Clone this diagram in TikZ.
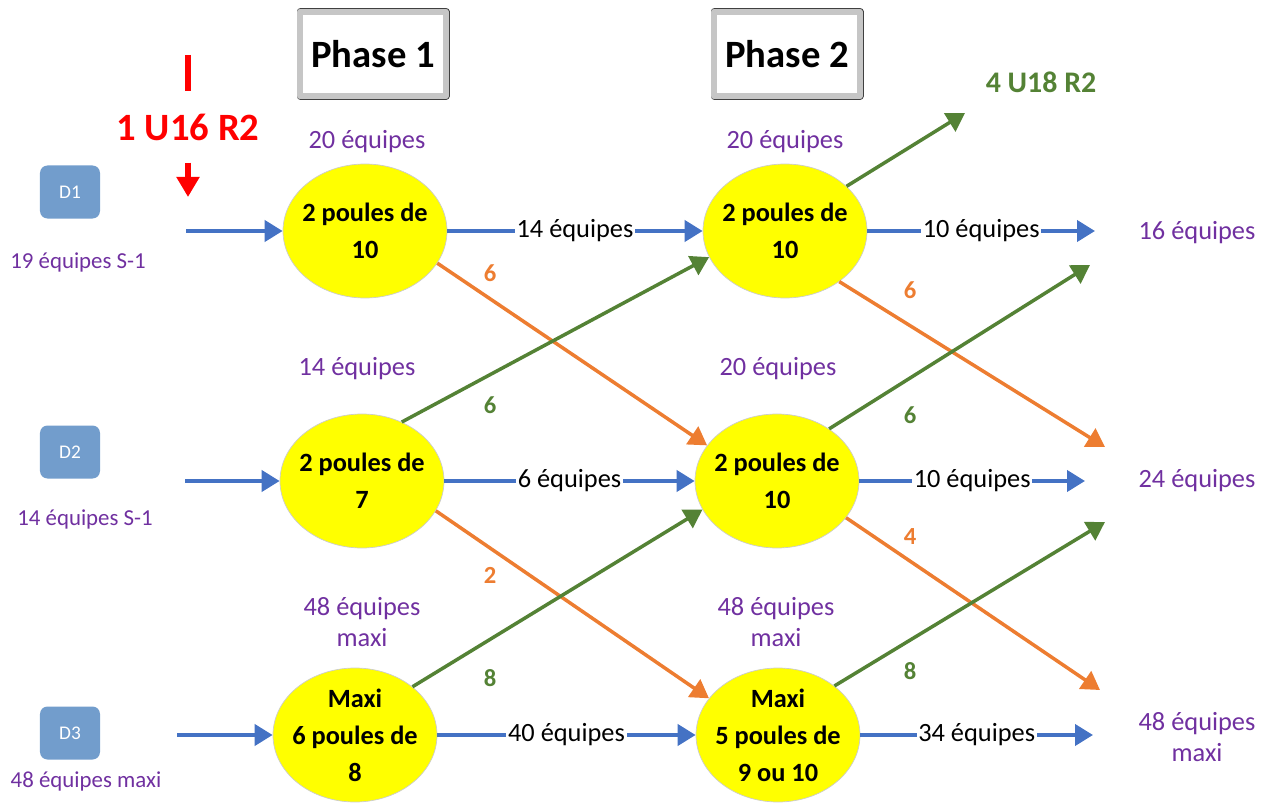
\documentclass[tikz,border=0pt]{standalone}
\usepackage{fontspec}
\setmainfont{Carlito}
\usetikzlibrary{shapes.geometric,arrows.meta}
\definecolor{cbleu}{RGB}{68,114,196}
\definecolor{corange}{RGB}{237,125,49}
\definecolor{cvert}{RGB}{84,130,53}
\definecolor{cviolet}{RGB}{112,48,160}
\definecolor{cjaune}{RGB}{255,255,0}
\definecolor{cboite}{RGB}{114,157,204}
\definecolor{crouge}{RGB}{255,0,0}
\begin{document}
\begin{tikzpicture}[x=0.2mm,y=-0.2mm,line join=round,
		>={Triangle[length=3.6mm,width=4.2mm]},
		poule/.style={ellipse,fill=cjaune,draw=gray!40,minimum width=32.8mm,minimum height=26.8mm,
			inner xsep=-1.2mm,inner ysep=-1mm,align=center,font=\bfseries\fontsize{15}{21}\selectfont},
		div/.style={rounded corners=1.5mm,fill=cboite,text=white,minimum width=12mm,
			minimum height=10.6mm,font=\fontsize{11}{12}\selectfont},
		phase/.style={draw=gray!45,line width=1.2mm,fill=white,preaction={draw=black!75,line width=1.5mm},
			minimum width=29.1mm,minimum height=16.9mm,font=\bfseries\fontsize{22}{26}\selectfont},
		nbeq/.style={text=cviolet,align=center,font=\fontsize{15}{18}\selectfont},
		nbdiv/.style={text=cviolet,font=\fontsize{13}{16}\selectfont},
		bleu/.style={->,draw=cbleu,line width=0.8mm},
		vert/.style={->,draw=cvert,line width=0.7mm},
		orng/.style={->,draw=corange,line width=0.7mm},
		lbl/.style={fill=white,inner sep=1pt,font=\fontsize{15}{18}\selectfont},
		chiffre/.style={font=\bfseries\fontsize{14}{16}\selectfont}]
	\useasboundingbox (0,0) rectangle (1271,805);
	
	% en-tetes
	\node[phase] (ph1) at (373,54) {Phase 1};
	\node[phase] (ph2) at (787,54) {Phase 2};
	
	% divisions
	\node[div] (d1) at (70,192) {D1};
	\node[div] (d2) at (70,452) {D2};
	\node[div] (d3) at (70,733) {D3};
	\node[nbdiv] (n1) at (78,262) {19 équipes S-1};
	\node[nbdiv] (n2) at (85,519) {14 équipes S-1};
	\node[nbdiv] (n3) at (86,781) {48 équipes maxi};
	
	% U16
	\coordinate (rtop) at (188,55);
	\coordinate (rbot) at (188,197);
	\node[text=crouge,inner ysep=4.4mm,font=\bfseries\fontsize{22}{26}\selectfont] (u16) at (188,127) {1 U16 R2};
	\draw[crouge,line width=1.2mm] (rtop) -- (u16.north);
	\draw[crouge,line width=1.2mm,-{Triangle[length=4mm,width=4.4mm]}] (u16.south) -- (rbot);
	
	% poules
	\node[poule] (e11) at (365,231) {2 poules de\\10};
	\node[poule] (e12) at (362,481) {2 poules de\\7};
	\node[poule] (e13) at (355,735) {Maxi\\6 poules de\\8};
	\node[poule] (e21) at (785,231) {2 poules de\\10};
	\node[poule] (e22) at (777,481) {2 poules de\\10};
	\node[poule] (e23) at (778,735) {Maxi\\5 poules de\\9 ou 10};
	
	\node[nbeq] (t11) at (367,142) {20 équipes};
	\node[nbeq] (t12) at (357,369) {14 équipes};
	\node[nbeq] (t13) at (362,622) {48 équipes\\maxi};
	\node[nbeq] (t21) at (785,142) {20 équipes};
	\node[nbeq] (t22) at (778,369) {20 équipes};
	\node[nbeq] (t23) at (776,622) {48 équipes\\maxi};
	
	% sorties
	\node[nbeq] (s1) at (1197,233) {16 équipes};
	\node[nbeq] (s2) at (1197,481) {24 équipes};
	\node[nbeq] (s3) at (1197,737) {48 équipes\\maxi};
	\node[text=cvert,font=\bfseries\fontsize{17}{20}\selectfont] (u18) at (1041,82) {4 U18 R2};
	
	\coordinate (in1) at (186,231);
	\coordinate (in2) at (185,481);
	\coordinate (in3) at (177,735);
	\coordinate (out1) at (1095,231);
	\coordinate (out2) at (1085,481);
	\coordinate (out3) at (1093,735);
	\coordinate (p18) at (965,113);
	\coordinate (o1) at (1105,447);
	\coordinate (o2) at (1100,690);
	\coordinate (v2) at (1090,265);
	\coordinate (v3) at (1105,522);
	
	% fleches bleues
	\draw[bleu] (in1) -- (e11);
	\draw[bleu] (in2) -- (e12);
	\draw[bleu] (in3) -- (e13);
	\draw[bleu] (e11) -- node[lbl]{14 équipes} (e21);
	\draw[bleu] (e12) -- node[lbl]{6 équipes} (e22);
	\draw[bleu] (e13) -- node[lbl]{40 équipes} (e23);
	\draw[bleu] (e21) -- node[lbl]{10 équipes} (out1);
	\draw[bleu] (e22) -- node[lbl]{10 équipes} (out2);
	\draw[bleu] (e23) -- node[lbl]{34 équipes} (out3);
	
	% descentes / montees
	\draw[orng] (e11.-24) -- (e22.153);
	\draw[orng] (e12.-22) -- (e23.152);
	\draw[orng] (e21.-43) -- (o1);
	\draw[orng] (e22.-28) -- (o2);
	\draw[vert] (e12.56) -- (e21.199);
	\draw[vert] (e13.40) -- (e22.201);
	\draw[vert] (e21.36) -- (p18);
	\draw[vert] (e22.45) -- (v2);
	\draw[vert] (e23.41) -- (v3);
	
	\node[chiffre,text=corange] (c1) at (490,273) {6};
	\node[chiffre,text=cvert] (c2) at (490,405) {6};
	\node[chiffre,text=corange] (c3) at (490,575) {2};
	\node[chiffre,text=cvert] (c4) at (490,678) {8};
	\node[chiffre,text=corange] (c5) at (910,290) {6};
	\node[chiffre,text=cvert] (c6) at (910,415) {6};
	\node[chiffre,text=corange] (c7) at (910,537) {4};
	\node[chiffre,text=cvert] (c8) at (910,671) {8};
\end{tikzpicture}
\end{document}
